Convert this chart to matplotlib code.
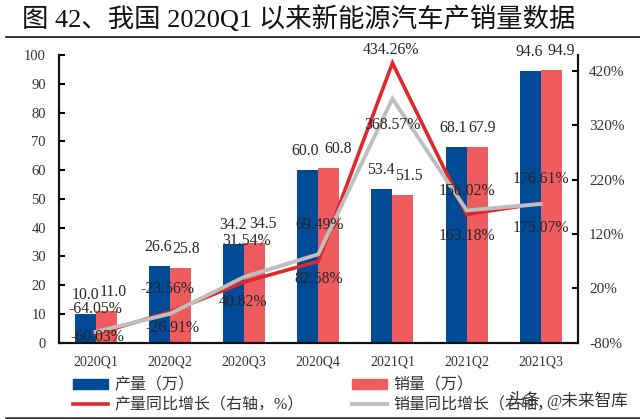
import matplotlib
matplotlib.use("Agg")
import matplotlib.pyplot as plt
import numpy as np
from matplotlib.lines import Line2D
from matplotlib.patches import Patch

plt.rcParams['font.family'] = ['Liberation Serif', 'Noto Sans CJK SC', 'DejaVu Sans']

categories = ['2020Q1', '2020Q2', '2020Q3', '2020Q4', '2021Q1', '2021Q2', '2021Q3']
production = [10.0, 26.6, 34.2, 60.0, 53.4, 68.1, 94.6]
sales = [11.0, 25.8, 34.5, 60.8, 51.5, 67.9, 94.9]
production_yoy = [-64.05, -23.56, 31.54, 69.49, 434.26, 156.02, 176.61]
sales_yoy = [-60.03, -26.91, 40.82, 82.58, 368.57, 163.18, 175.07]
left_ticks = list(range(0, 101, 10))
right_ticks = [-80, 20, 120, 220, 320, 420]

prod_dx = [0, -1, -1, -3, -1, -3, -1]
sales_dx = [7, 6, 8, 9, 6, 5, 10]
prod_yoy_off = [(0, 25), (-2, 23), (2, 41), (1, 36), (-1, 13), (0, 23), (0, 24)]
sales_yoy_off = [(2, -5), (3, -14), (-1, -25), (0, -25), (0, -26), (0, -26), (0, -24)]

BLUE, PINK, RED, GRAY = '#004A96', '#EE5C60', '#E0282C', '#BEBEBE'
TXT = '#333333'
LABEL_TXT = '#262626'

fig = plt.figure(figsize=(6.4, 4.19), dpi=100)
W, H = 640, 419
ax = fig.add_axes([58.5/W, (H-342.7)/H, (578-58.5)/W, (342.7-55)/H])
x = np.arange(len(categories))
bw = 0.283
ax.bar(x-bw/2, production, bw, color=BLUE, zorder=2)
ax.bar(x+bw/2, sales, bw, color=PINK, zorder=2)
ax.set_xlim(-0.5, 6.5)
ax.set_ylim(0, 100)
ax.set_yticks(left_ticks)
ax.set_xticks(x, categories)
ax.tick_params(axis='y', direction='in', length=4.5, width=1.5, labelsize=10.5, labelcolor=TXT, pad=9)
ax.tick_params(axis='x', length=0, labelsize=10, labelcolor=TXT, pad=9)

ax2 = ax.twinx()
ax2.plot(x, production_yoy, color=RED, lw=2.6, solid_joinstyle='miter')
ax2.plot(x, sales_yoy, color=GRAY, lw=2.8, solid_joinstyle='miter')
ax2.set_ylim(-80, 449)
ax2.set_yticks(right_ticks, [f'{t}%' for t in right_ticks])
ax2.tick_params(axis='y', direction='in', length=4.5, width=1.5, labelsize=11, labelcolor=TXT, pad=8)

for a in (ax, ax2):
    a.spines['top'].set_visible(False)
    for s in ('left', 'right', 'bottom'):
        a.spines[s].set_linewidth(1.5)
        a.spines[s].set_color('#111111')

def lab(a, xv, yv, s, off):
    a.annotate(s, xy=(xv, yv), xytext=off, textcoords='offset pixels',
               ha='center', va='center', fontsize=11.3, color=LABEL_TXT, zorder=10)

for i in x:
    lab(ax2, i-bw/2, production[i]*5.29-80, f'{production[i]:.1f}', (prod_dx[i], 19))
    lab(ax2, i+bw/2, sales[i]*5.29-80, f'{sales[i]:.1f}', (sales_dx[i], 19))
    lab(ax2, i, production_yoy[i], f'{production_yoy[i]:.2f}%', prod_yoy_off[i])
    lab(ax2, i, sales_yoy[i], f'{sales_yoy[i]:.2f}%', sales_yoy_off[i])

handles = [Patch(color=BLUE), Line2D([], [], color=RED, lw=2.6),
           Patch(color=PINK), Line2D([], [], color=GRAY, lw=2.8)]
labels = ['产量（万）', '产量同比增长（右轴，%）', '销量（万）', '销量同比增长（右轴，%）']
fig.legend(handles, labels, ncol=2, frameon=False, fontsize=11.5, labelcolor=TXT,
           loc='lower left', bbox_to_anchor=(73/W, (H-413)/H), borderpad=0, borderaxespad=0,
           handlelength=2.2, handleheight=0.65, handletextpad=0.4, columnspacing=3.0,
           labelspacing=0.22)

fig.text(22/W, (H-19)/H, '图 42、我国 2020Q1 以来新能源汽车产销量数据', fontsize=19,
         color='#111111', va='center', ha='left', fontweight='medium')
fig.add_artist(Line2D([6/W, 1], [(H-36.7)/H]*2, color='#111111', lw=1.2))
fig.add_artist(Line2D([6/W, 1], [(H-417.5)/H]*2, color='#333333', lw=1.8))
fig.text(507/W, (H-400.5)/H, '头条', fontsize=12, color='#333333', va='center', ha='left', zorder=7)
fig.text(546/W, (H-400.5)/H, '@未来智库', fontsize=12, color='#333333', va='center', ha='left', zorder=7,
         bbox=dict(facecolor='white', edgecolor='none', pad=1.5))

fig.savefig('out.png', dpi=100)
